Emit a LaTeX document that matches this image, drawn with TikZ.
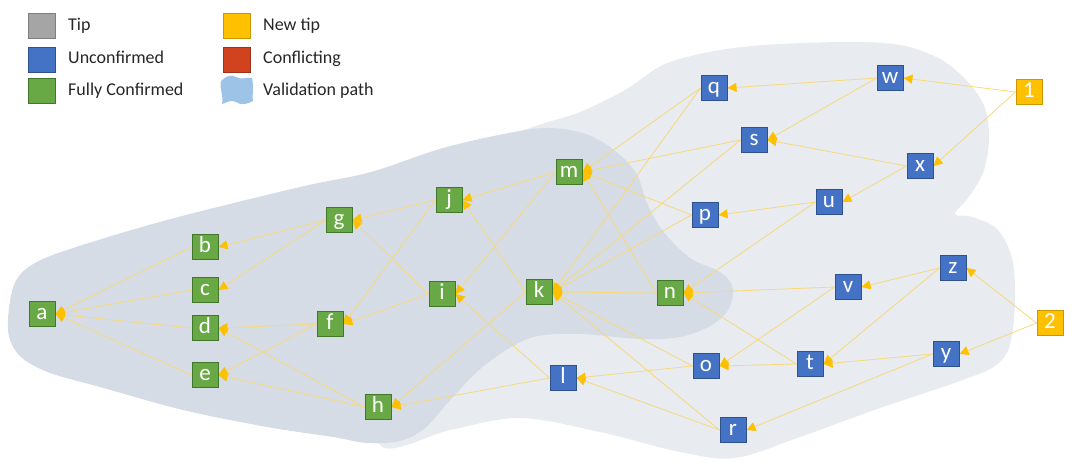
\documentclass[tikz,border=0pt]{standalone}
\usepackage{fontspec}
\setmainfont{Carlito}
\usetikzlibrary{arrows.meta}
\definecolor{grnF}{HTML}{68A845}
\definecolor{grnD}{HTML}{41772A}
\definecolor{bluF}{HTML}{4472C4}
\definecolor{bluD}{HTML}{2F528F}
\definecolor{yelF}{HTML}{FFC000}
\definecolor{yelD}{HTML}{C99700}
\definecolor{greyF}{HTML}{A5A5A5}
\definecolor{greyD}{HTML}{7F7F7F}
\definecolor{redF}{HTML}{D0431E}
\definecolor{redD}{HTML}{A0321A}
\definecolor{lightR}{HTML}{E8EBF0}
\definecolor{darkR}{HTML}{D6DCE5}
\definecolor{edgeC}{HTML}{F7D97C}
\definecolor{arrC}{HTML}{FFC000}
\definecolor{legBlob}{HTML}{9DC3E6}
\definecolor{txtC}{HTML}{262626}
\pgfdeclarelayer{bgl}
\pgfdeclarelayer{edl}
\pgfsetlayers{bgl,edl,main}
\tikzset{
 tx/.style={rectangle, minimum width=26pt, minimum height=25pt, inner sep=0pt, text=white,
   font=\fontsize{23}{23}\selectfont, text height=15.5pt, text depth=5.5pt, line width=1pt},
 gr/.style={tx, fill=grnF, draw=grnD},
 bl/.style={tx, fill=bluF, draw=bluD},
 ye/.style={tx, fill=yelF, draw=yelD},
 legsq/.style={rectangle, minimum width=27pt, minimum height=25pt, inner sep=0pt, line width=1pt},
 legtx/.style={anchor=west, inner sep=0pt, text=txtC, font=\fontsize{18}{18}\selectfont, text height=12.5pt, text depth=4pt},
 ed/.style={draw=edgeC, line width=0.8pt, -{Triangle[length=9pt,width=9pt,color=arrC]}},
}
\begin{document}
\begin{tikzpicture}[x=1pt,y=-1pt]
\useasboundingbox (0,0) rectangle (1080,469);
% regions
\begin{pgfonlayer}{bgl}
\fill[lightR] plot[smooth cycle, tension=0.55] coordinates {
 (380,445) (450,430) (520,418) (600,432) (680,452) (735,458) (800,437) (880,408)
 (960,381) (995,366) (1010,345) (1015,300) (1012,258) (997,229) (972,217) (955,214)
 (968,198) (983,173) (989,140) (985,108) (968,82) (942,60) (905,46) (860,42)
 (780,44) (720,50) (665,64) (625,90) (580,112) (530,128) (450,160) (400,250) (380,350)};
\fill[darkR] plot[smooth cycle, tension=0.55] coordinates {
 (8,318) (14,285) (30,266) (67,250) (167,220) (300,187) (371,172) (443,148)
 (514,132) (550,128) (586,134) (614,150) (636,173) (647,203) (662,230) (690,258)
 (720,272) (733,288) (728,310) (710,326) (680,337) (640,339) (580,334) (530,338)
 (485,365) (452,398) (425,428) (400,441) (367,443) (333,437) (267,427) (183,410)
 (100,387) (50,373) (22,358) (10,340)};
\end{pgfonlayer}
% legend
\node[legsq, fill=greyF, draw=greyD] (lg1) at (41.5,25.5) {};
\node[legsq, fill=bluF, draw=bluD] (lg2) at (41.5,59.5) {};
\node[legsq, fill=grnF, draw=grnD] (lg3) at (41.5,91) {};
\node[legtx] (lt1) at (68,26) {Tip};
\node[legtx] (lt2) at (68,59.5) {Unconfirmed};
\node[legtx] (lt3) at (68,91) {Fully Confirmed};
\node[legsq, fill=yelF, draw=yelD] (lg4) at (236.5,25.5) {};
\node[legsq, fill=redF, draw=redD] (lg5) at (236.5,59.5) {};
\fill[legBlob] (221,81) .. controls (226,76) and (231,74) .. (236,77)
  .. controls (241,80) and (247,77) .. (252,78)
  .. controls (254,86) and (252,95) .. (253,101)
  .. controls (247,104) and (241,106) .. (236,102)
  .. controls (231,99) and (226,103) .. (222,104)
  .. controls (224,96) and (219,89) .. cycle;
\node[legtx] (lt4) at (263,26) {New tip};
\node[legtx] (lt5) at (263,59.5) {Conflicting};
\node[legtx] (lt6) at (263,91) {Validation path};
% nodes
\node[gr] (a) at (42,314) {a};
\node[gr] (b) at (205,247) {b};
\node[gr] (c) at (205,290) {c};
\node[gr] (d) at (205,328) {d};
\node[gr] (e) at (205,375) {e};
\node[gr] (f) at (330,324) {f};
\node[gr] (g) at (339,220) {g};
\node[gr] (h) at (378,407) {h};
\node[gr] (i) at (442,294) {i};
\node[gr] (j) at (449,200) {j};
\node[gr] (k) at (539,292) {k};
\node[bl] (l) at (563,378) {l};
\node[gr] (m) at (569,172) {m};
\node[gr] (n) at (670,293) {n};
\node[bl] (o) at (706,366) {o};
\node[bl] (p) at (705,215) {p};
\node[bl] (q) at (714,88) {q};
\node[bl] (r) at (733,430) {r};
\node[bl] (s) at (754,140) {s};
\node[bl] (t) at (810,364) {t};
\node[bl] (u) at (829,202) {u};
\node[bl] (v) at (848,287) {v};
\node[bl] (w) at (890,78) {w};
\node[bl] (x) at (920,166) {x};
\node[bl] (y) at (946,354) {y};
\node[bl] (z) at (953,268) {z};
\node[ye] (t1) at (1029,92) {1};
\node[ye] (t2) at (1050,323) {2};
% edges
\begin{pgfonlayer}{edl}
\foreach \s/\t in {b/a,c/a,d/a,e/a,f/d,f/e,g/b,g/c,h/d,h/e,i/g,i/f,j/g,j/f,
  k/j,k/h,l/i,l/h,m/j,m/i,n/m,n/k,o/k,o/l,p/m,p/k,q/m,q/k,r/k,r/l,s/m,s/k,
  t/n,t/o,u/p,u/n,v/n,v/o,w/q,w/s,x/s,x/u,y/t,y/r,z/v,z/t,t1/w,t1/x,t2/z,t2/y}
  \draw[ed] (\s.west) -- (\t.east);
\end{pgfonlayer}
\end{tikzpicture}
\end{document}
